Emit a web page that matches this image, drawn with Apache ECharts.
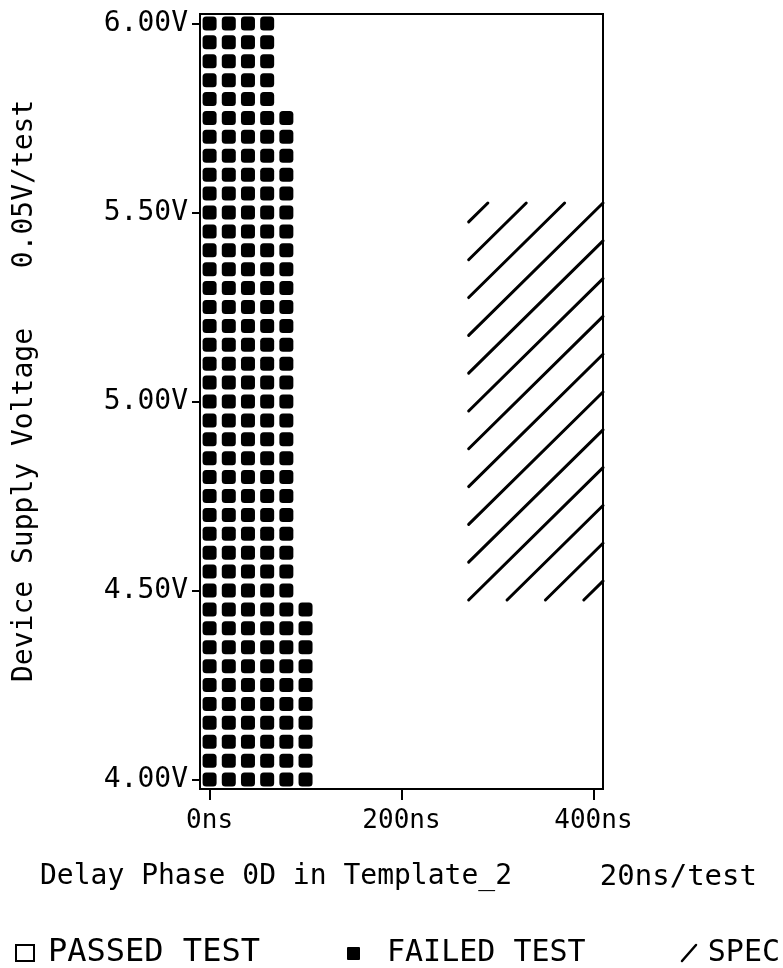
<!DOCTYPE html>
<html>
<head>
<meta charset="utf-8">
<style>html,body{margin:0;padding:0;background:#fff}#c{width:783px;height:968px}</style>
<script src="https://cdn.jsdelivr.net/npm/echarts@6.0.0/dist/echarts.min.js"></script>
</head>
<body>
<div id="c"></div>
<script>
// ---- data ----
const delays = [0, 20, 40, 60, 80, 100];                 // ns, columns with failures
const failTopVoltage = [6.00, 6.00, 6.00, 6.00, 5.75, 4.45]; // highest failing voltage per column
const voltageSteps = [4.00, 4.05, 4.10, 4.15, 4.20, 4.25, 4.30, 4.35, 4.40, 4.45,
                      4.50, 4.55, 4.60, 4.65, 4.70, 4.75, 4.80, 4.85, 4.90, 4.95,
                      5.00, 5.05, 5.10, 5.15, 5.20, 5.25, 5.30, 5.35, 5.40, 5.45,
                      5.50, 5.55, 5.60, 5.65, 5.70, 5.75, 5.80, 5.85, 5.90, 5.95, 6.00];
const xTicks = [0, 200, 400];
const yTicks = [4.00, 4.50, 5.00, 5.50, 6.00];
const specDelay = [270, 410];
const specVoltage = [4.475, 5.525];

// build failed-test points
const failed = [];
delays.forEach((d, i) => {
  voltageSteps.forEach(v => { if (v <= failTopVoltage[i] + 1e-9) failed.push([d, v]); });
});

const MONO = '"DejaVu Sans Mono", monospace';
const chart = echarts.init(document.getElementById('c'), null, {renderer: 'canvas'});

chart.setOption({
  animation: false,
  backgroundColor: '#fff',
  grid: {left: 200, right: 180, top: 14, bottom: 179, show: true, borderColor: '#000', borderWidth: 2, containLabel: false},
  xAxis: {
    type: 'value', min: -10, max: 410,
    axisLine: {show: true, onZero: false, lineStyle: {color: '#000', width: 2}},
    axisTick: {show: true, customValues: xTicks, length: 11, lineStyle: {color: '#000', width: 2}},
    axisLabel: {customValues: xTicks, formatter: v => v + 'ns', fontFamily: MONO, fontSize: 26, color: '#000', margin: 19},
    splitLine: {show: false}
  },
  yAxis: {
    type: 'value', min: 3.975, max: 6.025,
    axisLine: {show: true, onZero: false, lineStyle: {color: '#000', width: 2}},
    axisTick: {show: true, customValues: yTicks, length: 8, lineStyle: {color: '#000', width: 2}},
    axisLabel: {customValues: yTicks, formatter: v => v.toFixed(2) + 'V', fontFamily: MONO, fontSize: 28, color: '#000', margin: 12},
    splitLine: {show: false}
  },
  series: [
    {
      name: 'FAILED TEST', type: 'scatter', data: failed,
      symbol: 'roundRect', symbolSize: [14, 14],
      itemStyle: {color: '#000', opacity: 1}, silent: true
    },
    {
      name: 'SPEC', type: 'custom', silent: true,
      data: [[specDelay[0], specVoltage[0], specDelay[1], specVoltage[1]]],
      renderItem: function (params, api) {
        const x0 = api.value(0), y0 = api.value(1), x1 = api.value(2), y1 = api.value(3);
        const stepX = 40, stepY = 0.1, s = stepY / stepX;
        const kMin = Math.ceil(-(x1 - x0) / stepX - 1e-9);
        const kMax = Math.floor((y1 - y0) / stepY + 1e-9);
        const children = [];
        for (let k = kMin; k <= kMax; k++) {
          const d = k * stepY;
          let sx, sy, ex, ey;
          if (d >= 0) { sx = x0; sy = y0 + d; } else { sx = x0 - d / s; sy = y0; }
          const yEnd = y0 + d + s * (x1 - x0);
          if (yEnd <= y1 + 1e-9) { ex = x1; ey = yEnd; } else { ex = x0 + (y1 - y0 - d) / s; ey = y1; }
          const p1 = api.coord([sx, sy]), p2 = api.coord([ex, ey]);
          children.push({type: 'line', shape: {x1: p1[0], y1: p1[1], x2: p2[0], y2: p2[1]},
            style: {stroke: '#000', lineWidth: 3, lineCap: 'round'}});
        }
        return {type: 'group', children: children};
      }
    }
  ],
  graphic: [
    {type: 'text', x: 25, y: 184, rotation: Math.PI / 2,
      style: {text: '0.05V/test', font: '28px ' + MONO, fill: '#000', textAlign: 'center', textVerticalAlign: 'middle'}},
    {type: 'text', x: 25, y: 505, rotation: Math.PI / 2,
      style: {text: 'Device Supply Voltage', font: '28px ' + MONO, fill: '#000', textAlign: 'center', textVerticalAlign: 'middle'}},
    {type: 'text', x: 40, y: 877,
      style: {text: 'Delay Phase 0D in Template_2', font: '28px ' + MONO, fill: '#000', textAlign: 'left', textVerticalAlign: 'middle'}},
    {type: 'text', x: 757, y: 877,
      style: {text: '20ns/test', font: '29px ' + MONO, fill: '#000', textAlign: 'right', textVerticalAlign: 'middle'}},
    {type: 'rect', shape: {x: 16, y: 945, width: 18, height: 16},
      style: {fill: 'none', stroke: '#000', lineWidth: 2}},
    {type: 'text', x: 48, y: 953,
      style: {text: 'PASSED TEST', font: '32px ' + MONO, fill: '#000', textAlign: 'left', textVerticalAlign: 'middle'}},
    {type: 'rect', shape: {x: 347, y: 947, width: 13, height: 13, r: 1},
      style: {fill: '#000'}},
    {type: 'text', x: 387, y: 953,
      style: {text: 'FAILED TEST', font: '30px ' + MONO, fill: '#000', textAlign: 'left', textVerticalAlign: 'middle'}},
    {type: 'line', shape: {x1: 682, y1: 961, x2: 696, y2: 945},
      style: {stroke: '#000', lineWidth: 2.5, lineCap: 'round'}},
    {type: 'text', x: 780, y: 953,
      style: {text: 'SPEC', font: '30px ' + MONO, fill: '#000', textAlign: 'right', textVerticalAlign: 'middle'}}
  ]
});
</script>
</body>
</html>
